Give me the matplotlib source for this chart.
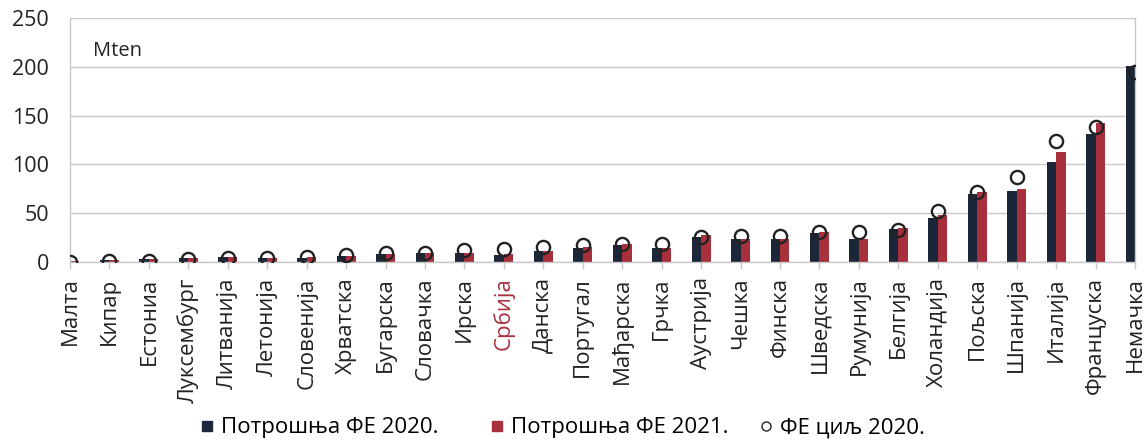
import matplotlib
matplotlib.use("Agg")
import matplotlib.pyplot as plt
import matplotlib.transforms as mtransforms
import numpy as np
from matplotlib.lines import Line2D

plt.rcParams['font.family'] = ['Open Sans', 'DejaVu Sans']

categories = ["Малта", "Кипар", "Естониа", "Луксембург", "Литванија", "Летонија",
              "Словенија", "Хрватска", "Бугарска", "Словачка", "Ирска", "Србија",
              "Данска", "Португал", "Мађарска", "Грчка", "Аустрија", "Чешка",
              "Финска", "Шведска", "Румунија", "Белгија", "Холандија", "Пољска",
              "Шпанија", "Италија", "Француска", "Немачка"]
fe_2020 = [0.5, 1.8, 2.8, 3.8, 5.0, 4.0, 4.6, 6.0, 8.0, 9.6, 9.0, 7.5, 11.3, 14.0,
           17.5, 14.0, 26.0, 24.0, 24.0, 30.0, 23.5, 33.5, 45.5, 70.0, 72.5, 102.0,
           131.0, 201.0]
fe_2021 = [0.6, 1.9, 2.9, 4.1, 5.3, 4.2, 4.9, 6.5, 8.5, 9.0, 9.6, 8.0, 11.3, 15.4,
           18.2, 14.2, 27.4, 24.0, 23.5, 31.0, 23.5, 35.0, 48.0, 72.0, 74.5, 113.0,
           142.5, 207.0]
fe_target = [0.5, 1.5, 1.5, 3.5, 3.8, 3.6, 5.0, 7.0, 8.8, 9.5, 12.0, 13.5, 15.5, 17.5,
             18.8, 18.8, 25.5, 26.5, 26.5, 31.0, 30.5, 33.0, 52.0, 72.0, 87.0, 124.0,
             138.0, 194.5]
yticks = [0, 50, 100, 150, 200, 250]
legend_labels = ["Потрошња ФЕ 2020.", "Потрошња ФЕ 2021.", "ФЕ циљ 2020."]

c_dark = "#1b2739"
c_red = "#a8303c"
grid_c = "#c8c8c8"
txt_c = "#222222"

fig = plt.figure(figsize=(11.44, 4.41), dpi=100)
ax = fig.add_axes([70/1144, 1-262/441, (1135-70)/1144, (262-18)/441])

x = np.arange(len(categories))
w = 0.24
ax.bar(x - w/2, fe_2020, width=w, color=c_dark, zorder=2)
ax.bar(x + w/2, fe_2021, width=w, color=c_red, zorder=2)
ax.plot(x, fe_target, linestyle="none", marker="o", markersize=9.5,
        markerfacecolor="none", markeredgecolor="#222222", markeredgewidth=1.7, zorder=3)

ax.set_xlim(0, len(categories) - 1)
ax.set_ylim(0, 250)
ax.set_yticks(yticks)
ax.set_yticklabels([str(v) for v in yticks], fontsize=15.5, color=txt_c)
ax.yaxis.grid(True, color=grid_c, linewidth=1.0, zorder=0)
ax.set_axisbelow(True)
ax.tick_params(axis="y", length=0, pad=15)

ax.set_xticks(x)
ax.set_xticklabels(categories, rotation=90, fontsize=16, color=txt_c)
ax.get_xticklabels()[categories.index("Србија")].set_color(c_red)
last = ax.get_xticklabels()[-1]
last.set_transform(last.get_transform() +
                   mtransforms.ScaledTranslation(-6/100, 0, fig.dpi_scale_trans))
ax.tick_params(axis="x", length=5, color=grid_c, width=1.0, pad=6)

ax.spines["top"].set_visible(False)
for s in ["left", "right", "bottom"]:
    ax.spines[s].set_color(grid_c)
    ax.spines[s].set_linewidth(1.0)

ax.text(23/1065, (262-56)/244, "Mten", transform=ax.transAxes, fontsize=14.5,
        color=txt_c, va="baseline")

handles = [
    Line2D([], [], linestyle="none", marker="s", markersize=7.5, color=c_dark),
    Line2D([], [], linestyle="none", marker="s", markersize=7.5, color=c_red),
    Line2D([], [], linestyle="none", marker="o", markersize=6.5, markerfacecolor="none",
           markeredgecolor="#222222", markeredgewidth=1.0),
]
lefts = [198, 488, 757]
for h, lab, lx in zip(handles, legend_labels, lefts):
    fig.legend([h], [lab], loc="center left", bbox_to_anchor=(lx/1144, 1-428/441),
               frameon=False, fontsize=16, handletextpad=0.25, handlelength=0.8,
               borderpad=0, borderaxespad=0)

fig.savefig("out.png", dpi=100)
